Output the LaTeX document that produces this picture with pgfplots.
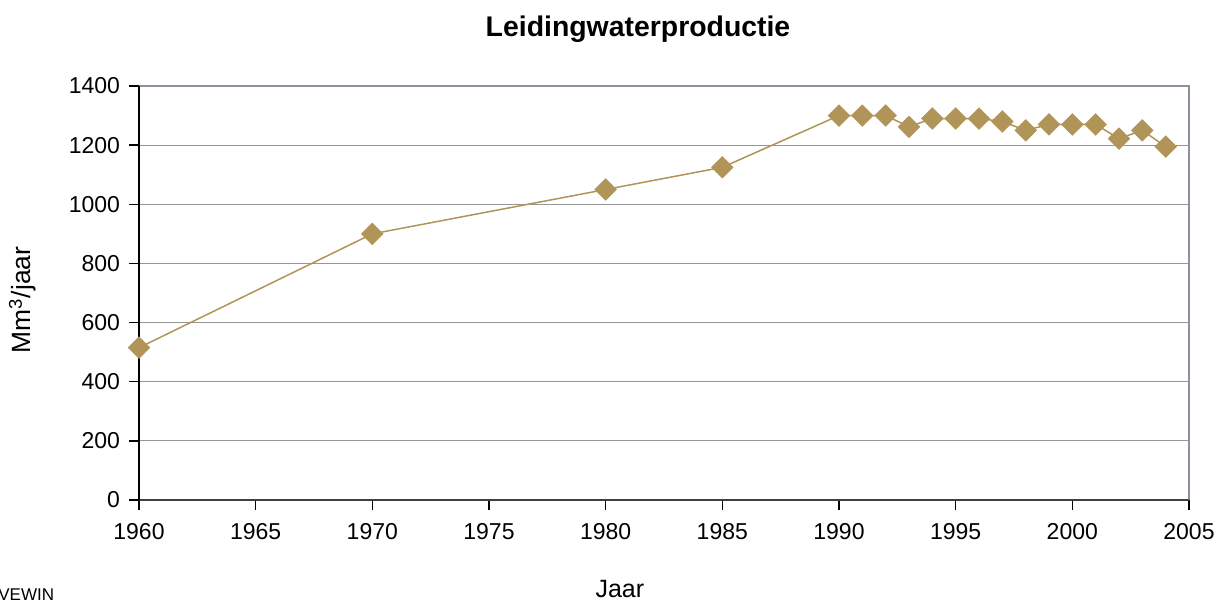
\documentclass[border=0pt]{standalone}
\usepackage{pgfplots}
\pgfplotsset{compat=1.18}
\usepackage{fontspec}
\setmainfont{Liberation Sans}
\definecolor{gold}{RGB}{176,148,88}
\definecolor{gridc}{RGB}{150,150,150}
\definecolor{framec}{RGB}{140,145,155}
\begin{document}
\begin{tikzpicture}
\begin{axis}[
  at={(0pt,0pt)}, anchor=south west,
  width=525pt, height=207pt, scale only axis,
  xmin=1960, xmax=2005, ymin=0, ymax=1400,
  xtick={1960,1965,...,2005},
  ytick={0,200,...,1400},
  /pgf/number format/assume math mode=true,
  /pgf/number format/set thousands separator={},
  ymajorgrids, grid style={gridc, line width=0.6pt},
  axis line style={draw=none},
  tick style={black, line width=0.7pt},
  major tick length=5pt,
  tick align=outside,
  xtick pos=bottom, ytick pos=left,
  ticklabel style={font=\fontsize{11.5}{13}\selectfont},
  xticklabel style={yshift=-3pt},
  yticklabel style={xshift=-1pt},
  xlabel={Jaar}, ylabel={Mm\textsuperscript{3}/jaar},
  label style={font=\fontsize{12.5}{14}\selectfont},
  xlabel style={at={(axis description cs:0.458,0)}, anchor=base, yshift=-48.5pt},
  ylabel style={at={(axis description cs:-0.111,0.483)}, anchor=center, font=\fontsize{13.2}{15}\selectfont},
  clip=false,
]
\draw[framec, line width=0.8pt] (axis cs:2005,0) -- (axis cs:2005,1400) -- (axis cs:1960,1400);
\draw[black!75, line width=0.8pt] (axis cs:1960,0) -- (axis cs:2005,0);
\draw[black, line width=0.9pt] (axis cs:1960,0) -- (axis cs:1960,1400);
\addplot[gold, line width=0.75pt, mark=square*, mark size=3.6pt, mark options={rotate=45, fill=gold, draw=gold}] coordinates {
(1960,515) (1970,900) (1980,1050) (1985,1125) (1990,1300) (1991,1300) (1992,1300)
(1993,1262) (1994,1290) (1995,1290) (1996,1290) (1997,1280) (1998,1250) (1999,1270)
(2000,1270) (2001,1270) (2002,1222) (2003,1250) (2004,1195)
};
\end{axis}
\node[font=\bfseries\fontsize{14.2}{16}\selectfont, anchor=base] at (249.5pt,232pt) {Leidingwaterproductie};
\node[font=\fontsize{8.5}{10}\selectfont, anchor=base west, inner sep=0pt] at (-70.5pt,-50pt) {VEWIN};
\pgfresetboundingbox
\path (-69.5pt,-53.5pt) rectangle (542pt,250pt);
\end{tikzpicture}
\end{document}
